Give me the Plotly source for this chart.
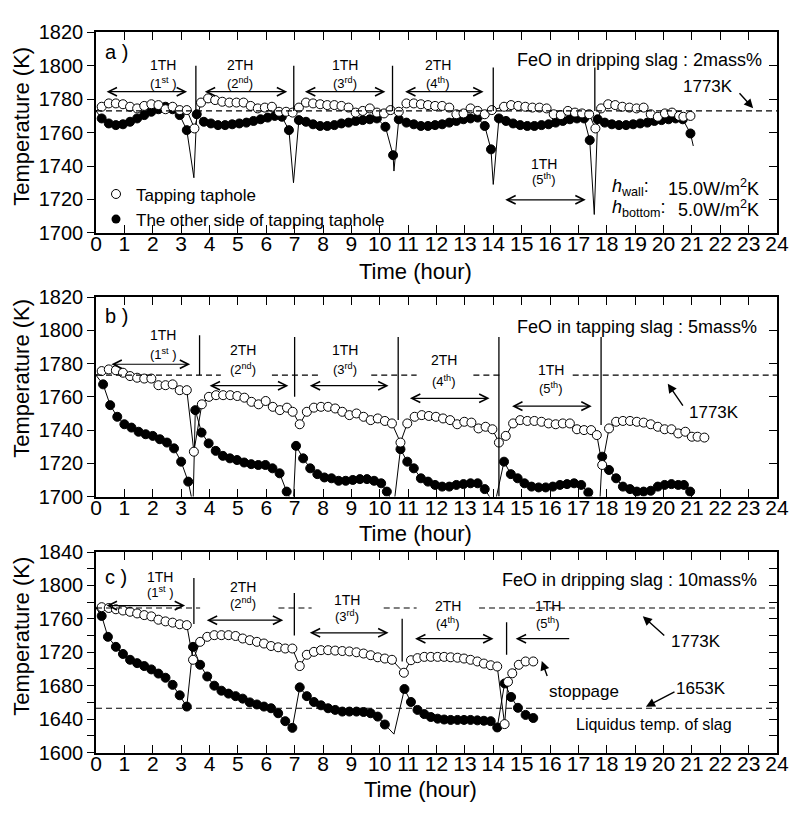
import plotly.graph_objects as go

# ---------------- DATA ----------------
# Panel a : FeO in dripping slag 2 mass%
A_OPEN_T = [0.2,0.45,0.7,0.95,1.2,1.45,1.7,1.95,2.2,2.45,2.7,2.95,3.2,3.47,
            3.7,3.95,4.2,4.45,4.7,4.95,5.2,5.45,5.7,5.95,6.2,6.45,6.7,6.93,
            7.15,7.4,7.65,7.9,8.15,8.4,8.65,8.9,9.15,9.4,9.65,9.9,10.15,10.38,
            10.67,10.94,11.2,11.45,11.7,11.95,12.2,12.45,12.7,12.95,13.2,13.45,13.7,13.95,
            14.38,14.63,14.88,15.13,15.38,15.63,15.88,16.13,16.38,16.63,16.88,17.13,17.38,17.6,
            17.8,18.05,18.3,18.55,18.8,19.05,19.3,19.55,19.8,20.05,20.3,20.55,20.7,20.95]
A_OPEN = [1775.5,1777.5,1777.5,1777,1775.5,1774.5,1776,1777,1776.5,1774,1775.5,1773.5,1773.5,1762.5,
          1778,1780.5,1779.5,1778.5,1778,1778,1778,1776,1774.5,1775,1775.5,1772.5,1772.5,1772,
          1775,1778,1777.5,1777,1776.5,1776.5,1776,1775,1772,1773,1774.5,1772,1771.5,1773.5,
          1772.5,1777.5,1777.5,1777,1776.5,1776,1776,1775,1771,1771.5,1774.5,1773,1771,1773.5,
          1775.5,1776.5,1776,1775.5,1775,1775,1774.5,1771,1770.5,1773,1772,1771.5,1771,1762.5,
          1774.5,1777,1776.5,1775.5,1775,1774.5,1775,1771,1769.5,1771.5,1772,1770,1769.5,1770]
A_FILL_T = [0.2,0.45,0.7,0.95,1.2,1.45,1.7,1.95,2.2,2.45,2.7,2.95,3.2,
            3.55,3.8,4.05,4.3,4.55,4.8,5.05,5.3,5.55,5.8,6.05,6.3,6.55,6.8,
            7.15,7.4,7.65,7.9,8.15,8.4,8.65,8.9,9.15,9.4,9.65,9.9,10.2,10.47,
            10.67,10.94,11.2,11.45,11.7,11.95,12.2,12.45,12.7,12.95,13.2,13.45,13.7,13.92,
            14.2,14.45,14.7,14.95,15.2,15.45,15.7,15.95,16.2,16.45,16.7,16.95,17.2,17.4,
            17.68,17.93,18.18,18.43,18.68,18.93,19.18,19.43,19.68,19.93,20.18,20.43,20.68,20.95]
A_FILL = [1768.5,1765.5,1764.5,1765,1766.5,1768.5,1770.5,1772.5,1774,1775.5,1774,1770.5,1761.5,
          1771,1766.5,1765.5,1764.5,1764.5,1765,1765.5,1766,1767,1768,1769,1770,1769.5,1761.5,
          1767.5,1766.5,1765,1764,1764,1764.5,1765.5,1766,1767,1767.5,1768,1768.5,1763.5,1746.5,
          1768,1766,1765,1764,1764,1764.5,1765,1766,1767,1768,1768.5,1769,1764,1750,
          1768.5,1767,1765.5,1764.5,1764,1764,1764.5,1765,1766,1767,1768,1768.5,1768.5,1755.5,
          1768,1766,1765,1764.5,1764.5,1765,1765.5,1766,1767,1767.5,1768,1768.5,1768,1759.5]
A_LINE_OPEN_T = [0.0]
A_LINE_OPEN = [1773]
A_LINE_FILL_T = [0.0, 3.45, 6.96, 10.5, 14.0, 17.56, 21.05]
A_LINE_FILL = [1773, 1733, 1730, 1737, 1729, 1711, 1752]

# Panel b : FeO in tapping slag 5 mass%
B_OPEN_T = [0.2,0.45,0.7,0.95,1.2,1.45,1.7,1.95,2.2,2.45,2.7,2.95,3.2,3.45,
            3.73,3.98,4.23,4.48,4.73,4.98,5.23,5.48,5.73,5.98,6.23,6.48,6.73,6.93,
            7.18,7.43,7.68,7.93,8.18,8.43,8.68,8.93,9.18,9.43,9.68,9.93,10.18,10.43,
            10.73,10.97,11.23,11.48,11.73,11.98,12.23,12.48,12.73,12.98,13.23,13.48,13.73,13.97,14.2,
            14.44,14.7,14.95,15.2,15.45,15.7,15.95,16.2,16.45,16.7,16.95,17.2,17.45,17.65,
            17.84,18.08,18.33,18.57,18.82,19.06,19.3,19.55,19.8,20.04,20.28,20.52,20.77,21.0,21.2,21.44]
B_OPEN = [1775.5,1776.5,1776,1774.5,1772.5,1771.5,1771,1771,1767,1767,1767.5,1764,1764,1727,
          1755.5,1760,1761,1761,1761,1760.5,1759.5,1757,1755.5,1757.5,1754,1752,1753.5,1751,
          1743.5,1751,1753.5,1754,1754,1753,1751,1749,1750,1748,1746,1747,1745.5,1744,
          1732.5,1744,1748,1749,1748.5,1748,1747,1746,1743.5,1745,1744.5,1741,1742,1740.5,1732.5,
          1736.5,1744,1746,1745.5,1745.5,1745,1744,1743.5,1744,1744,1740.5,1740,1740,1737,
          1719,1741,1745,1745.5,1745.5,1745,1744.5,1743.5,1742,1740.5,1740.5,1738,1739,1736,1736,1735.5]
B_FILL_T = [0.25,0.5,0.75,1.0,1.25,1.5,1.75,2.0,2.25,2.5,2.75,3.0,3.25,
            3.5,3.72,3.97,4.22,4.47,4.72,4.97,5.22,5.47,5.72,5.97,6.22,6.47,6.72,
            7.05,7.3,7.55,7.8,8.05,8.3,8.55,8.8,9.05,9.3,9.55,9.8,10.05,10.25,
            10.73,10.97,11.2,11.45,11.7,11.95,12.2,12.45,12.7,12.95,13.2,13.45,13.7,
            14.38,14.62,14.86,15.1,15.35,15.6,15.85,16.1,16.35,16.6,16.85,17.1,17.35,
            17.84,18.08,18.33,18.57,18.82,19.06,19.3,19.55,19.8,20.04,20.28,20.52,20.72,20.94]
B_FILL = [1767.5,1755,1748,1743.5,1741.5,1739,1737.5,1736.5,1734.5,1732.5,1729,1721,1709,
          1752,1738.5,1732,1727.5,1724.5,1723,1722,1720.5,1719.5,1719,1719,1717,1714,1703,
          1730.5,1723,1717,1713.5,1711.5,1711,1709.5,1709.5,1710,1710.5,1710.5,1709.5,1708,1703,
          1728.5,1721,1717,1711,1709,1707,1706,1706,1707,1707.5,1708,1708,1704.5,
          1721,1713.5,1711,1708,1706,1705.5,1705.5,1706,1707,1707.5,1708,1707,1702.5,
          1724,1716,1711,1706,1704.5,1703,1703,1703.5,1706,1707,1707.5,1707,1707,1703]
B_LINE_OPEN_T = [0.0]
B_LINE_OPEN = [1773]
B_LINE_FILL_T = [0.0, 3.42, 6.95, 10.5, 14.05, 17.75]
B_LINE_FILL = [1773, 1695, 1695, 1695, 1695, 1695]

# Panel c : FeO in dripping slag 10 mass%
C_OPEN_T = [0.2,0.45,0.7,0.95,1.2,1.45,1.7,1.95,2.2,2.45,2.7,2.95,3.2,
            3.42,3.67,3.92,4.17,4.42,4.67,4.92,5.17,5.42,5.67,5.92,6.17,6.42,6.67,6.92,
            7.18,7.43,7.68,7.93,8.18,8.43,8.68,8.93,9.18,9.43,9.68,9.93,10.18,10.43,
            10.85,11.1,11.33,11.57,11.8,12.04,12.27,12.5,12.74,12.97,13.2,13.44,13.67,13.91,14.14,
            14.4,14.52,14.67,14.9,15.14,15.41]
C_OPEN = [1774,1773,1771.5,1770,1768.5,1766.5,1764.5,1763,1759,1757,1755.5,1753.5,1752.5,
          1711,1732.5,1738.5,1740.5,1740.5,1740.5,1739.5,1736.5,1734.5,1732.5,1730.5,1727.5,1726,1724.5,1724.5,
          1703.5,1717,1720.5,1722.5,1722.5,1722,1721.5,1721,1720,1718.5,1716.5,1714,1712.5,1711,
          1695.5,1710.5,1713,1714.5,1714.5,1714.5,1714.5,1714,1713.5,1712.5,1711,1709,1706.5,1704.5,1703,
          1634,1684.7,1694.8,1705,1709,1709]
C_FILL_T = [0.2,0.42,0.7,0.95,1.2,1.45,1.7,1.95,2.2,2.45,2.7,2.95,3.2,
            3.42,3.67,3.92,4.17,4.42,4.67,4.92,5.17,5.42,5.67,5.92,6.17,6.42,6.67,6.92,
            7.18,7.43,7.68,7.93,8.18,8.43,8.68,8.93,9.18,9.43,9.68,9.93,10.18,
            10.87,11.1,11.33,11.57,11.8,12.04,12.27,12.5,12.74,12.97,13.2,13.44,13.67,13.91,14.14,
            14.4,14.63,14.87,15.14,15.41]
C_FILL = [1763.5,1738.5,1726.5,1718,1711,1707,1703.5,1699.5,1694.5,1689.5,1681,1668.5,1655,
          1726.5,1705,1691,1680,1674,1670.5,1667.5,1664.5,1660,1657.5,1655,1653,1647,1637.5,1629.5,
          1678,1667.5,1660.5,1656.5,1653,1651,1649,1649,1649,1648.5,1647,1643,1633.5,
          1676,1660.5,1651,1646,1642.5,1640.5,1639.5,1639,1639,1639,1639,1638.5,1638,1637.5,1630,
          1682.7,1666.5,1653.5,1645,1641.3]
C_LINE_OPEN_T = [0.0]
C_LINE_OPEN = [1773]
C_LINE_FILL_T = [0.0, 10.5]
C_LINE_FILL = [1773, 1622]

# tapping switch markers (time, top K, bottom K)
A_DIV_T = [3.52, 6.97, 10.45, 14.0, 17.58]
A_DIV_TOP = [1800, 1800, 1800, 1799, 1799]
A_DIV_BOT = [1773, 1773, 1773, 1773, 1773]
B_DIV_T = [3.65, 7.0, 10.65, 14.2, 17.8]
B_DIV_TOP = [1797, 1796, 1796, 1796, 1796]
B_DIV_BOT = [1773, 1760, 1746, 1700, 1743]
C_DIV_T = [3.45, 6.99, 10.79, 14.47]
C_DIV_TOP = [1809, 1791, 1760, 1756]
C_DIV_BOT = [1754, 1740, 1709, 1717]

# reference temperatures and visible dash segments (hours)
T_OPERATION = 1773
T_LIQUIDUS = 1653
A_REF_SEG = [(0, 24)]
B_REF_SEG = [(0, 4.4), (6.2, 7.9), (9.7, 11.3), (13.3, 14.3), (16.8, 24)]
C_REF_SEG = [(0, 3.67), (6.43, 7.6), (10.14, 11.3), (13.5, 24)]
C_LIQ_SEG = [(0, 24)]

X_TICKS = list(range(0, 25))
Y_RANGES = [(1700, 1820), (1700, 1820), (1600, 1840)]

# ---------------- FIGURE ----------------
FONT = "Arial, Liberation Sans, sans-serif"
W, H = 790, 818
ML, MR = 96, 13
PW = W - ML - MR
MS = 9

def py(p):  # pixel row -> paper y
    return 1 - p / H

def px(p):
    return (p - ML) / PW

DOMAINS = [(py(228), py(22)), (py(499), py(294)), (py(762), py(556))]

fig = go.Figure()

panels = [
    (A_OPEN_T, A_OPEN, A_FILL_T, A_FILL, A_LINE_OPEN_T, A_LINE_OPEN, A_LINE_FILL_T, A_LINE_FILL),
    (B_OPEN_T, B_OPEN, B_FILL_T, B_FILL, B_LINE_OPEN_T, B_LINE_OPEN, B_LINE_FILL_T, B_LINE_FILL),
    (C_OPEN_T, C_OPEN, C_FILL_T, C_FILL, C_LINE_OPEN_T, C_LINE_OPEN, C_LINE_FILL_T, C_LINE_FILL),
]

def merged(t1, v1, t2, v2):
    pts = sorted(zip(list(t1) + list(t2), list(v1) + list(v2)), key=lambda p: p[0])
    return [p[0] for p in pts], [p[1] for p in pts]

for i, (ot, ov, ft, fv, lot, lov, lft, lfv) in enumerate(panels):
    xa = "x" if i == 0 else f"x{i+1}"
    ya = "y" if i == 0 else f"y{i+1}"
    t, v = merged(ot, ov, lot, lov)
    fig.add_trace(go.Scatter(x=t, y=v, xaxis=xa, yaxis=ya, mode="lines",
                             line=dict(color="black", width=1), showlegend=False, hoverinfo="skip"))
    t, v = merged(ft, fv, lft, lfv)
    fig.add_trace(go.Scatter(x=t, y=v, xaxis=xa, yaxis=ya, mode="lines",
                             line=dict(color="black", width=1), showlegend=False, hoverinfo="skip"))
    fig.add_trace(go.Scatter(x=ft, y=fv, xaxis=xa, yaxis=ya, mode="markers",
                             marker=dict(symbol="circle", size=MS, color="black",
                                         line=dict(color="black", width=1)),
                             name="The other side of tapping taphole", showlegend=False))
    fig.add_trace(go.Scatter(x=ot, y=ov, xaxis=xa, yaxis=ya, mode="markers",
                             marker=dict(symbol="circle", size=MS, color="white",
                                         line=dict(color="black", width=1)),
                             name="Tapping taphole", showlegend=(i == 0), legendrank=1))
    if i == 0:
        fig.add_trace(go.Scatter(x=[None], y=[None], xaxis=xa, yaxis=ya, mode="markers",
                                 marker=dict(symbol="circle", size=MS, color="black"),
                                 name="The other side of tapping taphole", showlegend=True,
                                 legendrank=2))

shapes = []
def vline_set(xr, yr, ts, tops, bots):
    for t, a, b in zip(ts, tops, bots):
        shapes.append(dict(type="line", xref=xr, yref=yr, x0=t, x1=t, y0=b, y1=a,
                           line=dict(color="black", width=1.3)))

def dash_set(xr, yr, level, segs):
    for a, b in segs:
        shapes.append(dict(type="line", xref=xr, yref=yr, x0=a, x1=b, y0=level, y1=level,
                           line=dict(color="black", width=1.2, dash="6px,4px")))

vline_set("x", "y", A_DIV_T, A_DIV_TOP, A_DIV_BOT)
vline_set("x2", "y2", B_DIV_T, B_DIV_TOP, B_DIV_BOT)
vline_set("x3", "y3", C_DIV_T, C_DIV_TOP, C_DIV_BOT)
dash_set("x", "y", T_OPERATION, A_REF_SEG)
dash_set("x2", "y2", T_OPERATION, B_REF_SEG)
dash_set("x3", "y3", T_OPERATION, C_REF_SEG)
dash_set("x3", "y3", T_LIQUIDUS, C_LIQ_SEG)

ann = []
def txt(xr, yr, x, y, s, size, anchor="center"):
    ann.append(dict(xref=xr, yref=yr, x=x, y=y, text=s, showarrow=False, xanchor=anchor,
                    yanchor="middle", font=dict(size=size, color="black", family=FONT)))

def darrow(xr, yr, x0, x1, y, both=True):
    d = dict(xref=xr, yref=yr, axref=xr, ayref=yr, x=x1, y=y, ax=x0, ay=y, text="",
             showarrow=True, arrowhead=5, arrowsize=1.4, arrowwidth=1.2, arrowcolor="black",
             standoff=0, startstandoff=0)
    if both:
        d.update(arrowside="end+start", startarrowhead=5, startarrowsize=1.4)
    ann.append(d)

def parrow(xr, yr, tx, ty, hx, hy):
    ann.append(dict(xref=xr, yref=yr, axref=xr, ayref=yr, x=hx, y=hy, ax=tx, ay=ty, text="",
                    showarrow=True, arrowhead=2, arrowsize=1.3, arrowwidth=1.4,
                    arrowcolor="black", standoff=0))

TH, SUB = 14, 13
def period(xr, yr, xc, y1, y2, lab, sup, ya, a0, a1, both=True):
    txt(xr, yr, xc, y1, lab, TH)
    txt(xr, yr, xc, y2, sup, SUB)
    darrow(xr, yr, a0, a1, ya, both)

# panel a
txt("x", "y", 0.25, 1808, "a )", 20, "left")
period("x", "y", 2.37, 1800.2, 1789.7, "1TH", "(1<sup>st</sup> )", 1784.5, 0.32, 3.21)
period("x", "y", 5.08, 1800.2, 1789.7, "2TH", "(2<sup>nd</sup>)", 1784.5, 3.78, 6.74)
period("x", "y", 8.79, 1800.2, 1789.7, "1TH", "(3<sup>rd</sup>)", 1784.5, 7.31, 10.2)
period("x", "y", 12.04, 1800.2, 1789.7, "2TH", "(4<sup>th</sup>)", 1784.5, 10.84, 13.66)
period("x", "y", 15.78, 1741.4, 1732, "1TH", "(5<sup>th</sup>)", 1719.8, 14.37, 17.26)
txt("x", "y", 23.55, 1803.7, "FeO in dripping slag : 2mass%", 18, "right")
txt("x", "y", 21.57, 1787.4, "1773K", 17)
parrow("x", "y", 22.63, 1784.5, 23.16, 1774.6)
txt("x", "y", 18.1, 1727, "<i>h</i><sub>wall</sub>:", 18, "left")
txt("x", "y", 23.45, 1727, "15.0W/m<sup>2</sup>K", 18, "right")
txt("x", "y", 18.1, 1714.5, "<i>h</i><sub>bottom</sub>:", 18, "left")
txt("x", "y", 23.45, 1714.5, "5.0W/m<sup>2</sup>K", 18, "right")

# panel b
txt("x2", "y2", 0.25, 1808.9, "b )", 20, "left")
period("x2", "y2", 2.37, 1797.2, 1785.5, "1TH", "(1<sup>st</sup> )", 1779.6, 0.49, 3.32)
period("x2", "y2", 5.19, 1788.4, 1776.7, "2TH", "(2<sup>nd</sup>)", 1766.7, 3.95, 6.78)
period("x2", "y2", 8.79, 1788.4, 1776.7, "1TH", "(3<sup>rd</sup>)", 1766.7, 7.48, 10.31)
period("x2", "y2", 12.25, 1782, 1769.6, "2TH", "(4<sup>th</sup>)", 1759.1, 11.01, 13.87)
period("x2", "y2", 16.03, 1776.1, 1765.6, "1TH", "(5<sup>th</sup>)", 1754.4, 14.61, 17.47)
txt("x2", "y2", 23.37, 1801.9, "FeO in tapping slag : 5mass%", 18, "right")
txt("x2", "y2", 21.78, 1750.3, "1773K", 17)
parrow("x2", "y2", 20.72, 1753.8, 20.15, 1767.9)

# panel c
txt("x3", "y3", 0.25, 1810, "c )", 20, "left")
period("x3", "y3", 2.26, 1809.7, 1792.2, "1TH", "(1<sup>st</sup> )", 1775.9, 0.32, 3.14)
period("x3", "y3", 5.19, 1798, 1779.4, "2TH", "(2<sup>nd</sup>)", 1758.4, 3.85, 6.6)
period("x3", "y3", 8.86, 1782.9, 1763.1, "1TH", "(3<sup>rd</sup>)", 1743.3, 7.48, 10.31)
period("x3", "y3", 12.42, 1775.9, 1755, "2TH", "(4<sup>th</sup>)", 1736.3, 11.19, 14.01)
period("x3", "y3", 15.92, 1775.9, 1755, "1TH", "(5<sup>th</sup>)", 1736.3, 16.73, 14.79, both=False)
txt("x3", "y3", 23.37, 1806.2, "FeO in dripping slag : 10mass%", 18, "right")
txt("x3", "y3", 21.14, 1732.8, "1773K", 17)
parrow("x3", "y3", 20.08, 1738.6, 19.27, 1763.1)
txt("x3", "y3", 17.19, 1673.4, "stoppage", 17)
parrow("x3", "y3", 15.92, 1689.7, 15.71, 1709.5)
txt("x3", "y3", 21.32, 1676.9, "1653K", 17)
parrow("x3", "y3", 20.44, 1673.4, 19.38, 1654.8)
txt("x3", "y3", 19.66, 1633.8, "Liquidus temp. of slag", 16)

# axis titles
for xc, yc in [(415, 268), (415, 537), (420, 800)]:
    ann.append(dict(xref="paper", yref="paper", x=px(xc), y=py(yc), text="Time (hour)",
                    showarrow=False, xanchor="center", yanchor="middle",
                    font=dict(size=22, color="black", family=FONT)))
for yc in [119, 378, 643]:
    ann.append(dict(xref="paper", yref="paper", x=px(22), y=py(yc), text="Temperature (K)",
                    showarrow=False, xanchor="center", yanchor="middle", textangle=-90,
                    font=dict(size=22, color="black", family=FONT)))

layout = dict(
    width=W, height=H, margin=dict(l=ML, r=MR, t=0, b=0),
    paper_bgcolor="white", plot_bgcolor="white",
    font=dict(family=FONT, color="black"),
    shapes=shapes, annotations=ann,
    legend=dict(x=0.0, y=py(170), xanchor="left", yanchor="top", bgcolor="rgba(0,0,0,0)",
                font=dict(size=17, family=FONT), tracegroupgap=0, itemwidth=30,
                traceorder="normal"),
)
for i in range(3):
    sx = "" if i == 0 else str(i + 1)
    lo, hi = Y_RANGES[i]
    step = 20
    layout["xaxis" + sx] = dict(
        domain=[0, 1], anchor="y" + sx, range=[0, 24], tickmode="array",
        tickvals=X_TICKS, ticktext=[str(v) for v in X_TICKS],
        ticks="inside", ticklen=8, tickwidth=1.3, tickcolor="black",
        ticklabelstandoff=-9,
        showline=True, linecolor="black", linewidth=1.6, mirror="ticks",
        showgrid=False, zeroline=False, tickfont=dict(size=21, family=FONT),
        fixedrange=True)
    layout["yaxis" + sx] = dict(
        domain=list(DOMAINS[i]), anchor="x" + sx, range=[lo, hi], dtick=step, tick0=lo,
        ticklabelstep=(2 if i == 2 else 1),
        ticks="outside", ticklen=7, tickwidth=1.3, tickcolor="black",
        showline=True, linecolor="black", linewidth=1.6, mirror=True,
        showgrid=False, zeroline=False, tickfont=dict(size=20, family=FONT))
    layout["yaxis" + str(i + 4)] = dict(
        overlaying="y" + sx, side="right", anchor="x" + sx, range=[lo, hi], dtick=step,
        tick0=lo, ticks="inside", ticklen=8, tickwidth=1.3, tickcolor="black",
        showticklabels=False, showline=False, showgrid=False, zeroline=False)
fig.update_layout(**layout)

# dummy traces to activate right-side tick axes
for i in range(3):
    sx = "" if i == 0 else str(i + 1)
    fig.add_trace(go.Scatter(x=[None], y=[None], xaxis="x" + sx, yaxis="y" + str(i + 4),
                             showlegend=False, hoverinfo="skip"))

fig.write_html("out.html")
